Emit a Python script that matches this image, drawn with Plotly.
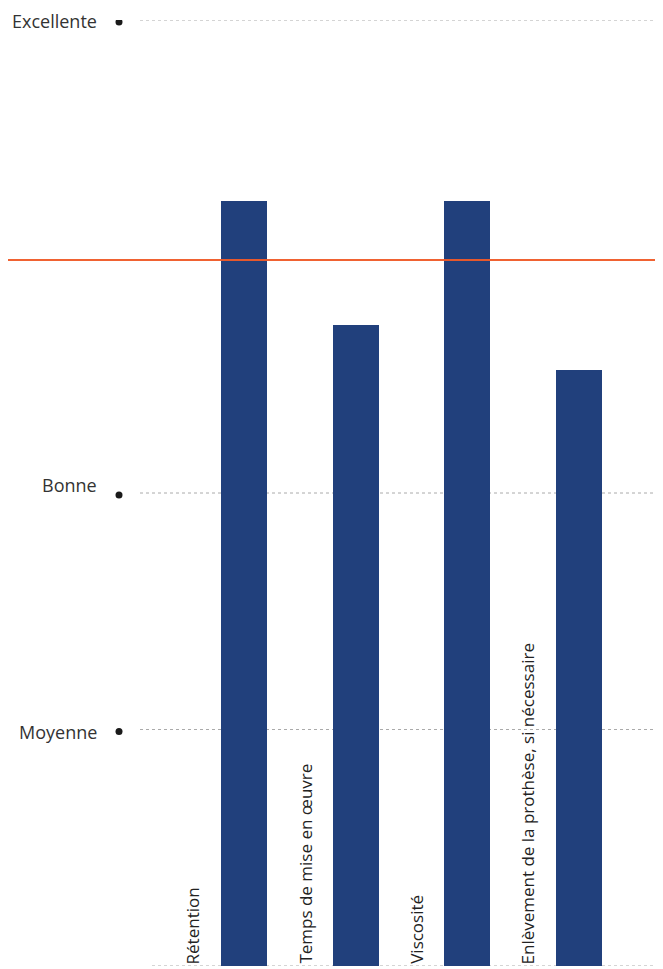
import plotly.graph_objects as go

categories = ["Rétention", "Temps de mise en œuvre", "Viscosité", "Enlèvement de la prothèse, si nécessaire"]
values = [3.235, 2.71, 3.235, 2.52]
reference_value = 2.985
tick_values = [1, 2, 4]
tick_labels = ["Moyenne", "Bonne", "Excellente"]

xpos = [1, 2, 3, 4]
FONT = "Open Sans"
PLOT_W = 523.0
label_shift = {1: -2, 2: 8, 4: -1}

fig = go.Figure()
fig.add_trace(go.Bar(x=xpos, y=values, width=0.412, marker=dict(color="#21407c", line=dict(width=0)),
                     hoverinfo="skip", showlegend=False))

shapes = []
for tv in tick_values:
    shapes.append(dict(type="line", xref="paper", yref="y", x0=0, x1=1, y0=tv, y1=tv,
                       line=dict(color="#aaaaaa", width=1, dash="dot"), layer="below"))
    shapes.append(dict(type="circle", xref="paper", yref="y", xsizemode="pixel", ysizemode="pixel",
                       xanchor=-21 / PLOT_W, yanchor=tv, x0=-3.5, x1=3.5, y0=-5.5, y1=1.5,
                       fillcolor="#1a1a1a", line=dict(width=0)))
shapes.append(dict(type="line", xref="paper", yref="y", x0=12 / PLOT_W, x1=1, y0=0, y1=0,
                   line=dict(color="#aaaaaa", width=1, dash="dot"), layer="below"))
shapes.append(dict(type="line", xref="paper", yref="y", x0=-140 / PLOT_W, x1=1, y0=reference_value, y1=reference_value,
                   line=dict(color="#f05a28", width=2), layer="above", opacity=0.95))

annotations = []
for tv, tl in zip(tick_values, tick_labels):
    annotations.append(dict(x=-41 / PLOT_W, y=tv, xref="paper", yref="y", text=tl, showarrow=False,
                            xanchor="right", yanchor="middle", yshift=label_shift[tv],
                            font=dict(family=FONT, size=18, color="#333333")))
for xp, cat in zip(xpos, categories):
    annotations.append(dict(x=xp - 0.457, y=0, xref="x", yref="y", text=cat, showarrow=False,
                            textangle=-90, xanchor="center", yanchor="bottom",
                            font=dict(family=FONT, size=17, color="#222222")))

fig.update_layout(
    width=663, height=969,
    margin=dict(l=132, r=8, t=12, b=11),
    paper_bgcolor="white", plot_bgcolor="white",
    xaxis=dict(range=[0.069, 4.752], showgrid=False, zeroline=False, showticklabels=False, showline=False),
    yaxis=dict(range=[0, 4], showgrid=False, zeroline=False, showticklabels=False, showline=False),
    shapes=shapes, annotations=annotations, bargap=0,
)
fig.write_html("out.html")
